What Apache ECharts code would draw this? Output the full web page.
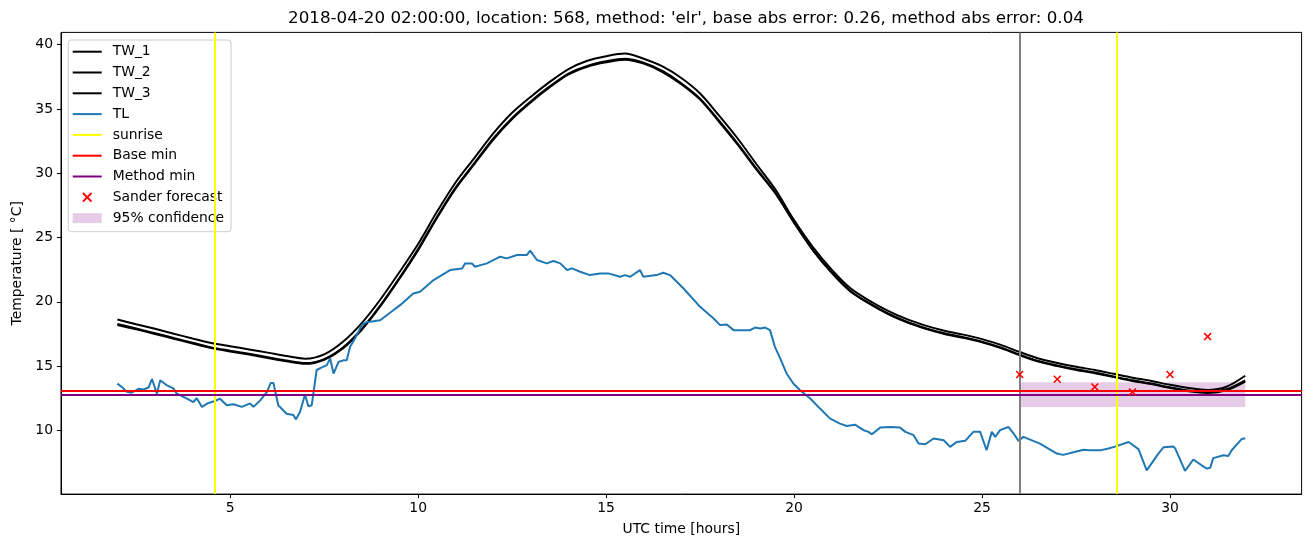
<!DOCTYPE html>
<html><head><meta charset="utf-8">
<script src="https://cdn.jsdelivr.net/npm/echarts@6/dist/echarts.min.js"></script>
<style>html,body{margin:0;padding:0;background:#fff}#c{width:1310px;height:547px}</style>
</head><body><div id="c"></div>
<script>
const titleText = "2018-04-20 02:00:00, location: 568, method: 'elr', base abs error: 0.26, method abs error: 0.04";
const twHours = [2.0,2.5,3.0,3.5,4.0,4.5,5.0,5.5,6.0,6.5,7.0,7.5,8.0,8.5,9.0,9.5,10.0,10.5,11.0,11.5,12.0,12.5,13.0,13.5,14.0,14.5,15.0,15.5,16.0,16.5,17.0,17.5,18.0,18.5,19.0,19.5,20.0,20.5,21.0,21.5,22.0,22.5,23.0,23.5,24.0,24.5,25.0,25.5,26.0,26.5,27.0,27.5,28.0,28.5,29.0,29.5,30.0,30.5,31.0,31.5,32.0];
const tw1 = [18.62,18.25,17.9,17.52,17.15,16.8,16.55,16.3,16.05,15.78,15.58,15.92,16.9,18.35,20.2,22.3,24.5,27.0,29.3,31.2,33.1,34.7,35.95,37.1,38.1,38.75,39.1,39.3,38.9,38.3,37.4,36.2,34.5,32.7,30.7,28.75,26.35,24.25,22.5,21.05,20.1,19.3,18.65,18.15,17.75,17.45,17.1,16.65,16.1,15.6,15.25,14.95,14.7,14.4,14.1,13.85,13.55,13.3,13.15,13.4,14.25];
const tw2 = [18.28,17.92,17.56,17.19,16.82,16.45,16.2,15.96,15.7,15.43,15.24,15.55,16.45,17.9,19.75,21.85,24.1,26.6,28.9,30.8,32.7,34.3,35.6,36.75,37.75,38.35,38.7,38.9,38.6,37.95,37.0,35.8,34.1,32.3,30.35,28.5,26.2,24.05,22.3,20.85,19.9,19.1,18.45,17.95,17.55,17.25,16.9,16.45,15.9,15.4,15.05,14.75,14.5,14.2,13.9,13.65,13.35,13.1,12.97,13.2,13.9];
const tw3 = [18.2,17.86,17.5,17.13,16.76,16.4,16.14,15.9,15.64,15.37,15.18,15.5,16.38,17.83,19.68,21.78,24.02,26.52,28.82,30.72,32.62,34.22,35.52,36.68,37.68,38.28,38.62,38.82,38.52,37.87,36.92,35.72,34.02,32.22,30.28,28.44,26.14,24.0,22.25,20.8,19.85,19.05,18.4,17.9,17.5,17.2,16.85,16.4,15.85,15.35,15.0,14.7,14.45,14.15,13.85,13.6,13.3,13.05,12.92,13.12,13.8];
const tlHours = [2.0,2.12,2.25,2.38,2.56,2.7,2.83,2.92,3.05,3.14,3.32,3.49,3.58,3.85,4.02,4.11,4.25,4.42,4.6,4.73,4.91,5.09,5.31,5.53,5.62,5.8,5.98,6.08,6.15,6.28,6.5,6.68,6.75,6.86,6.99,7.08,7.17,7.3,7.44,7.57,7.66,7.75,7.88,8.01,8.1,8.19,8.32,8.5,8.64,8.72,8.99,9.34,9.52,9.87,10.05,10.41,10.85,11.17,11.25,11.43,11.51,11.83,12.18,12.36,12.63,12.89,12.98,13.16,13.42,13.6,13.78,13.96,14.09,14.31,14.57,14.84,15.06,15.37,15.5,15.64,15.9,15.99,16.34,16.52,16.7,17.06,17.5,17.86,18.03,18.21,18.39,18.83,18.96,19.1,19.23,19.36,19.49,19.63,19.8,19.98,20.16,20.43,20.69,20.96,21.22,21.4,21.62,21.85,21.98,22.07,22.29,22.56,22.82,22.96,23.18,23.31,23.49,23.71,23.98,24.15,24.33,24.55,24.77,24.95,25.12,25.26,25.35,25.48,25.7,25.84,25.97,26.1,26.54,26.99,27.16,27.43,27.7,27.87,28.14,28.36,28.54,28.9,29.16,29.38,29.69,29.83,30.09,30.14,30.4,30.62,30.84,30.98,31.07,31.15,31.42,31.55,31.64,31.91,32.0];
const tlTemps = [13.64,13.38,13.0,12.93,13.24,13.19,13.34,14.0,12.86,13.9,13.5,13.27,12.86,12.47,12.21,12.5,11.83,12.14,12.29,12.47,11.96,12.04,11.83,12.1,11.83,12.34,12.99,13.69,13.69,11.96,11.3,11.2,10.86,11.46,12.8,11.88,11.96,14.7,14.9,15.08,15.6,14.42,15.32,15.45,15.45,16.5,17.15,18.19,18.44,18.45,18.57,19.35,19.74,20.65,20.78,21.69,22.47,22.6,22.99,22.99,22.73,22.99,23.51,23.38,23.64,23.64,23.98,23.25,22.99,23.17,22.99,22.47,22.6,22.34,22.08,22.21,22.21,21.95,22.08,21.95,22.47,21.95,22.08,22.26,22.08,21.04,19.61,18.7,18.19,18.24,17.8,17.8,18.0,17.93,18.0,17.8,16.5,15.6,14.43,13.65,13.12,12.48,11.7,10.92,10.53,10.35,10.45,10.02,9.89,9.7,10.22,10.27,10.22,9.89,9.63,8.98,8.93,9.37,9.24,8.72,9.11,9.19,9.89,9.89,8.46,9.89,9.5,10.02,10.27,9.76,9.19,9.5,8.98,8.2,8.1,8.3,8.5,8.46,8.45,8.59,8.74,9.1,8.55,6.9,8.2,8.7,8.75,8.59,6.85,7.74,7.29,7.03,7.1,7.85,8.07,8.02,8.46,9.34,9.4];
const sunriseHours = [4.59, 28.58];
const forecastHour = [26.0];
const baseMin = [13.05];
const methodMin = [12.75];
const sanderHours = [26, 27, 28, 29, 30, 31];
const sanderTemps = [14.35, 13.98, 13.38, 12.99, 14.35, 17.3];
const confHours = [26.0, 32.0];
const confTemps = [11.82, 13.75];
const xTicks = [5, 10, 15, 20, 25, 30];
const yTicks = [10, 15, 20, 25, 30, 35, 40];

const FONT = 'DejaVu Sans';
const zip = (a, b) => a.map((v, i) => [v, b[i]]);
const xSym = 'path://M0,1.4L1.4,0L5,3.6L8.6,0L10,1.4L6.4,5L10,8.6L8.6,10L5,6.4L1.4,10L0,8.6L3.6,5Z';
const lineIcon = 'path://M0,0L14.5,0L14.5,1L0,1Z';
const twLine = (name, vals) => ({
  name, type: 'line', data: zip(twHours, vals), symbol: 'none', smooth: 0.3,
  lineStyle: { color: '#000', width: 2 }, itemStyle: { color: '#000' }, z: 3
});

const chart = echarts.init(document.getElementById('c'), null, { renderer: 'canvas' });
chart.setOption({
  animation: false,
  backgroundColor: '#fff',
  textStyle: { fontFamily: FONT },
  title: {
    text: titleText, left: 681, textAlign: 'center', top: 5.5,
    textStyle: { fontFamily: FONT, fontSize: 16.7, fontWeight: 'normal', color: '#000' }
  },
  grid: { left: 61, right: 8.4, top: 32.4, bottom: 52.9, show: true, borderColor: '#000', borderWidth: 1, backgroundColor: 'transparent' },
  legend: {
    orient: 'vertical', left: 68.3, top: 40, itemWidth: 29, itemHeight: 10, itemGap: 6.8,
    padding: [4.7, 7, 6.6, 4.4],
    backgroundColor: 'rgba(255,255,255,0.8)', borderColor: '#cccccc', borderWidth: 1, borderRadius: 3,
    textStyle: { fontFamily: FONT, fontSize: 13.9, color: '#000', lineHeight: 14, padding: [0, 0, 0, 6] },
    data: [
      { name: 'TW_1', icon: lineIcon },
      { name: 'TW_2', icon: lineIcon },
      { name: 'TW_3', icon: lineIcon },
      { name: 'TL', icon: lineIcon },
      { name: 'sunrise', icon: lineIcon },
      { name: 'Base min', icon: lineIcon },
      { name: 'Method min', icon: lineIcon },
      { name: 'Sander forecast', icon: xSym },
      { name: '95% confidence', icon: 'rect' }
    ]
  },
  xAxis: {
    type: 'value', min: 0.5, max: 33.5,
    name: 'UTC time [hours]', nameLocation: 'middle', nameGap: 28,
    nameTextStyle: { fontFamily: FONT, fontSize: 13.9, color: '#000' },
    axisLine: { show: true, onZero: false, lineStyle: { color: '#000', width: 1 } },
    axisTick: { show: true, length: 4, customValues: xTicks, lineStyle: { color: '#000' } },
    axisLabel: { customValues: xTicks, margin: 7, fontFamily: FONT, fontSize: 13.9, color: '#000' },
    splitLine: { show: false }
  },
  yAxis: {
    type: 'value', min: 5.05, max: 40.95,
    name: 'Temperature [ °C]', nameLocation: 'middle', nameGap: 36, nameRotate: 90,
    nameTextStyle: { fontFamily: FONT, fontSize: 13.9, color: '#000' },
    axisLine: { show: true, onZero: false, lineStyle: { color: '#000', width: 1 } },
    axisTick: { show: true, length: 4, customValues: yTicks, lineStyle: { color: '#000' } },
    axisLabel: { customValues: yTicks, margin: 8, fontFamily: FONT, fontSize: 13.9, color: '#000' },
    splitLine: { show: false }
  },
  series: [
    twLine('TW_1', tw1),
    twLine('TW_2', tw2),
    twLine('TW_3', tw3),
    {
      name: 'TL', type: 'line', data: zip(tlHours, tlTemps), symbol: 'none',
      lineStyle: { color: '#1f77b4', width: 2 }, itemStyle: { color: '#1f77b4' }, z: 3
    },
    {
      name: 'forecast', type: 'line', data: [], symbol: 'none', silent: true,
      markLine: { silent: true, symbol: ['none', 'none'], label: { show: false },
        lineStyle: { color: '#808080', width: 2, type: 'solid' },
        data: forecastHour.map(v => ({ xAxis: v })) }
    },
    {
      name: 'sunrise', type: 'line', data: [], symbol: 'none',
      lineStyle: { color: '#ffff00', width: 2 }, itemStyle: { color: '#ffff00' },
      markLine: { silent: true, symbol: ['none', 'none'], label: { show: false },
        lineStyle: { color: '#ffff00', width: 2, type: 'solid' },
        data: sunriseHours.map(v => ({ xAxis: v })) }
    },
    {
      name: 'Base min', type: 'line', data: [], symbol: 'none',
      lineStyle: { color: '#ff0000', width: 2 }, itemStyle: { color: '#ff0000' },
      markLine: { silent: true, symbol: ['none', 'none'], label: { show: false },
        lineStyle: { color: '#ff0000', width: 2, type: 'solid' },
        data: baseMin.map(v => ({ yAxis: v })) }
    },
    {
      name: 'Method min', type: 'line', data: [], symbol: 'none',
      lineStyle: { color: '#800080', width: 2 }, itemStyle: { color: '#800080' },
      markLine: { silent: true, symbol: ['none', 'none'], label: { show: false },
        lineStyle: { color: '#800080', width: 2, type: 'solid' },
        data: methodMin.map(v => ({ yAxis: v })) }
    },
    {
      name: 'Sander forecast', type: 'scatter', data: zip(sanderHours, sanderTemps),
      symbol: xSym, symbolSize: 8, itemStyle: { color: '#ff0000', opacity: 1 }, z: 5
    },
    {
      name: '95% confidence', type: 'line', data: [], symbol: 'none',
      lineStyle: { color: 'rgba(128,0,128,0.2)', width: 0 }, itemStyle: { color: 'rgba(128,0,128,0.2)' },
      markArea: { silent: true, itemStyle: { color: 'rgba(128,0,128,0.2)' },
        data: [[{ xAxis: confHours[0], yAxis: confTemps[0] }, { xAxis: confHours[1], yAxis: confTemps[1] }]] }
    }
  ]
});
</script>
</body></html>
